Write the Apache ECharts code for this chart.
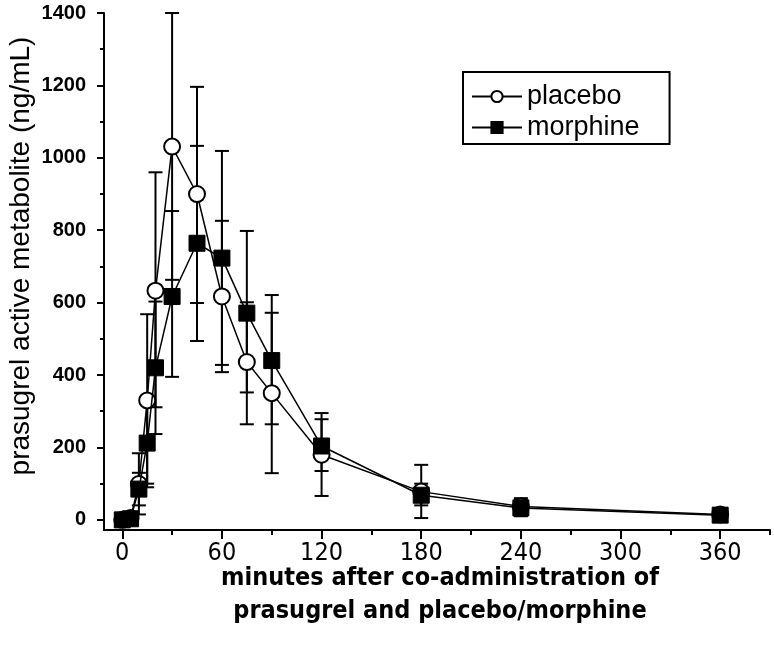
<!DOCTYPE html>
<html><head><meta charset="utf-8">
<script src="https://cdn.jsdelivr.net/npm/echarts@6/dist/echarts.min.js"></script>
<style>html,body{margin:0;padding:0;background:#fff}#c{width:774px;height:656px}</style>
</head><body><div id="c"></div>
<script>
const times = [0, 5, 10, 15, 20, 30, 45, 60, 75, 90, 120, 180, 240, 360];
const placebo      = [0, 5, 99, 330, 633, 1031, 900, 617, 436, 350, 180, 78, 37, 15];
const placeboLow   = [0, 0, 15, 90, 311, 663, 599, 408, 264, 129, 66, 5, 15, 8];
const placeboHigh  = [0, 14, 184, 568, 960, 1400, 1196, 826, 601, 572, 295, 152, 60, 22];
const morphine     = [0, 3, 85, 212, 420, 617, 764, 723, 571, 440, 204, 68, 33, 13];
const morphineLow  = [0, 0, 40, 100, 237, 395, 494, 428, 352, 264, 135, 40, 10, 5];
const morphineHigh = [0, 10, 130, 340, 603, 853, 1033, 1019, 798, 621, 278, 100, 55, 22];
const xTicks = [0, 60, 120, 180, 240, 300, 360];
const xMinorTicks = [30, 90, 150, 210, 270, 330, 390];
const yTicks = [0, 200, 400, 600, 800, 1000, 1200, 1400];
const yMinorTicks = [100, 300, 500, 700, 900, 1100, 1300];

const X_MIN = -11, X_MAX = 390, Y_MIN = -28, Y_MAX = 1400;
const narrow = '"Liberation Sans Narrow", "DejaVu Sans Condensed", sans-serif';
const arial = '"Liberation Sans", Arial, sans-serif';

function pairs(v){ return times.map((t,i)=>[t, v[i]]); }
function errs(lo, hi){ return times.map((t,i)=>[t, lo[i], hi[i]]); }
function errRender(params, api){
  const x = api.value(0), lo = api.value(1), hi = api.value(2);
  if (hi - lo <= 0) return null;
  const p1 = api.coord([x, lo]), p2 = api.coord([x, hi]);
  const w = 7, st = {stroke:'#000', lineWidth:2};
  return {type:'group', children:[
    {type:'line', shape:{x1:p1[0], y1:p1[1], x2:p2[0], y2:p2[1]}, style:st},
    {type:'line', shape:{x1:p1[0]-w, y1:p1[1], x2:p1[0]+w, y2:p1[1]}, style:st},
    {type:'line', shape:{x1:p2[0]-w, y1:p2[1], x2:p2[0]+w, y2:p2[1]}, style:st}
  ]};
}

const chart = echarts.init(document.getElementById('c'), null, {renderer:'canvas'});
const axisLine = {show:true, onZero:false, lineStyle:{color:'#000', width:2}};
const hiddenLine = {show:false, onZero:false};
chart.setOption({
  animation:false,
  backgroundColor:'#fff',
  grid:{left:104, right:4, top:13, bottom:126, containLabel:false, outerBoundsMode:'none'},
  xAxis:[
    {type:'value', min:X_MIN, max:X_MAX, position:'bottom', axisLine:axisLine,
     splitLine:{show:false},
     axisTick:{show:true, customValues:xTicks, length:9, inside:false, lineStyle:{color:'#000', width:2}},
     axisLabel:{show:true, customValues:xTicks, margin:11, color:'#000', fontSize:25, fontFamily:narrow}},
    {type:'value', min:X_MIN, max:X_MAX, position:'bottom', axisLine:hiddenLine,
     splitLine:{show:false},
     axisTick:{show:true, customValues:xMinorTicks, length:5, lineStyle:{color:'#000', width:2}},
     axisLabel:{show:false}}
  ],
  yAxis:[
    {type:'value', min:Y_MIN, max:Y_MAX, position:'left', axisLine:axisLine,
     splitLine:{show:false},
     axisTick:{show:true, customValues:yTicks, length:7, lineStyle:{color:'#000', width:2}},
     axisLabel:{show:true, customValues:yTicks, formatter:(v)=>String(v), margin:18, color:'#000',
       fontSize:20, fontWeight:'bold', fontFamily:arial}},
    {type:'value', min:Y_MIN, max:Y_MAX, position:'left', axisLine:hiddenLine,
     splitLine:{show:false},
     axisTick:{show:true, customValues:yMinorTicks, length:4, lineStyle:{color:'#000', width:2}},
     axisLabel:{show:false}}
  ],
  legend:{
    left:463, top:72, orient:'vertical', itemWidth:50, itemHeight:14, itemGap:4,
    padding:[11,30,3,8], borderColor:'#000', borderWidth:2,
    textStyle:{fontSize:27, color:'#000', fontFamily:arial},
    data:['placebo','morphine']
  },
  graphic:[
    {type:'text', x:440, y:578, style:{text:'minutes after co-administration of', fill:'#000',
      font:'bold 25px '+narrow, textAlign:'center', textVerticalAlign:'middle'}},
    {type:'text', x:440, y:611, style:{text:'prasugrel and placebo/morphine', fill:'#000',
      font:'bold 25px '+narrow, textAlign:'center', textVerticalAlign:'middle'}},
    {type:'text', x:21, y:256, rotation:Math.PI/2, style:{text:'prasugrel active metabolite (ng/mL)', fill:'#000',
      font:'28px '+arial, textAlign:'center', textVerticalAlign:'middle'}}
  ],
  series:[
    {type:'custom', name:'placebo-err', renderItem:errRender, data:errs(placeboLow, placeboHigh),
     encode:{x:0, y:[1,2]}, clip:false, z:1, silent:true},
    {type:'custom', name:'morphine-err', renderItem:errRender, data:errs(morphineLow, morphineHigh),
     encode:{x:0, y:[1,2]}, clip:false, z:1, silent:true},
    {type:'line', name:'placebo', data:pairs(placebo), symbol:'circle', symbolSize:16, showAllSymbol:true,
     lineStyle:{color:'#000', width:1.5}, itemStyle:{color:'#fff', borderColor:'#000', borderWidth:2}, z:3},
    {type:'line', name:'morphine', data:pairs(morphine), symbol:'rect', symbolSize:16, showAllSymbol:true,
     lineStyle:{color:'#000', width:1.5}, itemStyle:{color:'#000', borderColor:'#000', borderWidth:1}, z:4}
  ]
});
</script></body></html>
